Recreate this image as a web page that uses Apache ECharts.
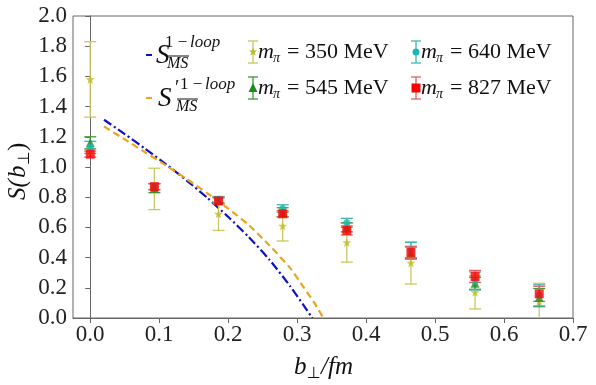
<!DOCTYPE html>
<html><head><meta charset="utf-8">
<script src="https://cdn.jsdelivr.net/npm/echarts@6/dist/echarts.min.js"></script>
<style>html,body{margin:0;padding:0;background:#fff}#c{width:596px;height:385px}</style>
</head><body><div id="c"></div>
<script>
// ---- data ----
const bPerp = [0, 0.093, 0.186, 0.279, 0.372, 0.465, 0.558, 0.651];
const s350 = [1.58, 0.855, 0.69, 0.61, 0.50, 0.365, 0.17, 0.11];
const e350 = [0.25, 0.137, 0.11, 0.10, 0.13, 0.14, 0.11, 0.12];
const s545 = [1.16, 0.86, 0.78, 0.70, 0.60, 0.43, 0.23, 0.135];
const e545 = [0.04, 0.03, 0.02, 0.03, 0.03, 0.04, 0.04, 0.06];
const s640 = [1.13, 0.87, 0.785, 0.725, 0.63, 0.45, 0.245, 0.15];
const e640 = [0.04, 0.02, 0.02, 0.025, 0.03, 0.05, 0.06, 0.07];
const s827 = [1.085, 0.87, 0.775, 0.69, 0.58, 0.435, 0.275, 0.16];
const e827 = [0.02, 0.02, 0.02, 0.02, 0.03, 0.04, 0.04, 0.05];
const msX  = [0.02, 0.05, 0.08, 0.11, 0.14, 0.17, 0.20, 0.23, 0.26, 0.29, 0.31, 0.322];
const msY  = [1.313, 1.218, 1.120, 1.018, 0.910, 0.795, 0.670, 0.535, 0.385, 0.21, 0.08, 0.0];
const msPX = [0.02, 0.05, 0.08, 0.11, 0.14, 0.17, 0.20, 0.23, 0.26, 0.29, 0.31, 0.325, 0.338];
const msPY = [1.268, 1.183, 1.096, 1.01, 0.92, 0.825, 0.725, 0.615, 0.48, 0.33, 0.20, 0.10, 0.0];
const xTicks = [0, 0.1, 0.2, 0.3, 0.4, 0.5, 0.6, 0.7];

const FONT = "Liberation Serif";
const STARPTS = [[0,-10],[2.35,-3.24],[9.51,-3.09],[3.8,1.24],[5.88,8.09],[0,4],[-5.88,8.09],[-3.8,1.24],[-9.51,-3.09],[-2.35,-3.24]];
const STAR = 'path://M' + STARPTS.map(p=>p.join(',')).join(' L') + ' Z';
const groups = [
  {name:'350', ys:s350, es:e350, color:'#bcbd22', ecolor:'#c8c860', symbol:STAR, size:9},
  {name:'545', ys:s545, es:e545, color:'#1f8c1f', ecolor:'#3a9a3a', symbol:'triangle', size:9},
  {name:'640', ys:s640, es:e640, color:'#1fb5b0', ecolor:'#40b8b0', symbol:'circle', size:7},
  {name:'827', ys:s827, es:e827, color:'#ff0000', ecolor:'#e06060', symbol:'rect', size:9}
];

const series = [];
series.push({type:'line', data: msX.map((x,i)=>[x, msY[i]]), showSymbol:false, smooth:0.2,
  lineStyle:{color:'#1010c8', width:2.2, type:[9,3,2,3]}, z:1, silent:true});
series.push({type:'line', data: msPX.map((x,i)=>[x, msPY[i]]), showSymbol:false, smooth:0.2,
  lineStyle:{color:'#eca41c', width:2.2, type:[7,4]}, z:1, silent:true});
groups.forEach(g=>{
  series.push({type:'custom', silent:true, clip:true, z:2,
    data: bPerp.map((x,i)=>[x, g.ys[i]-g.es[i], g.ys[i]+g.es[i]]),
    encode:{x:0, y:[1,2]},
    renderItem(params, api){
      const lo = api.coord([api.value(0), api.value(1)]);
      const hi = api.coord([api.value(0), api.value(2)]);
      const w = 6, st = {stroke:g.ecolor, lineWidth:1.3};
      return {type:'group', children:[
        {type:'line', shape:{x1:lo[0],y1:lo[1],x2:hi[0],y2:hi[1]}, style:st},
        {type:'line', shape:{x1:lo[0]-w,y1:lo[1],x2:lo[0]+w,y2:lo[1]}, style:st},
        {type:'line', shape:{x1:hi[0]-w,y1:hi[1],x2:hi[0]+w,y2:hi[1]}, style:st}
      ]};
    }});
  series.push({type:'scatter', data: bPerp.map((x,i)=>[x, g.ys[i]]), symbol:g.symbol, symbolSize:g.size,
    itemStyle:{color:g.color}, z:2, silent:true});
});

// legend graphics
const graphic = [];
function legLine(y, color){
  graphic.push({type:'line', shape:{x1:146,y1:y,x2:152,y2:y}, style:{stroke:color, lineWidth:2}});
}
legLine(55, '#1010c8'); legLine(98, '#eca41c');
function txt(x, y, text, size, italic){
  graphic.push({type:'text', x:x, y:y, style:{text:text, fill:'#111', textVerticalAlign:'middle',
    font:(italic?'italic ':'')+size+'px '+FONT}});
}
function sLabel(sx, sy, prime, supX, supY, subX, subY, olY){
  txt(sx, sy, 'S', 27, true);
  if (prime) txt(sx+17, sy-10, '\u2032', 20, false);
  txt(supX, supY, '1 \u2212', 17, false);
  txt(supX+25, supY, 'loop', 17, true);
  txt(subX, subY, 'MS', 16, true);
  graphic.push({type:'line', shape:{x1:subX+1,y1:olY,x2:subX+22,y2:olY}, style:{stroke:'#111', lineWidth:1}});
}
sLabel(156, 56, false, 165, 43, 167, 64, 56);
sLabel(158, 99, true, 180, 85, 176, 107, 99);
function errIcon(x, y, g){
  const st = {stroke:g.ecolor, lineWidth:1.3};
  graphic.push({type:'line', shape:{x1:x,y1:y-11,x2:x,y2:y+11}, style:st});
  graphic.push({type:'line', shape:{x1:x-5,y1:y-11,x2:x+5,y2:y-11}, style:st});
  graphic.push({type:'line', shape:{x1:x-5,y1:y+11,x2:x+5,y2:y+11}, style:st});
  const f = {fill:g.color};
  if (g.name === '350') graphic.push({type:'polygon', x:x, y:y, scaleX:0.45, scaleY:0.45, shape:{points:STARPTS}, style:f});
  if (g.name === '545') graphic.push({type:'polygon', x:x, y:y, shape:{points:[[0,-5],[4.5,4],[-4.5,4]]}, style:f});
  if (g.name === '640') graphic.push({type:'circle', x:x, y:y, shape:{cx:0, cy:0, r:3.5}, style:f});
  if (g.name === '827') graphic.push({type:'rect', x:x, y:y, shape:{x:-4.5, y:-4.5, width:9, height:9}, style:f});
}
function mLabel(x, y, val){
  txt(x, y, 'm', 22, true);
  txt(x+15, y+6, '\u03c0', 14, true);
  txt(x+29, y, '= ' + val + ' MeV', 22, false);
}
const legPos = [[253,52,'350',0],[253,88,'545',1],[416,52,'640',2],[416,88,'827',3]];
legPos.forEach(p=>{ errIcon(p[0], p[1], groups[p[3]]); mLabel(p[0]+5, p[1], p[2]); });

// axis titles
graphic.push({type:'group', x:325, y:367, children:[
  {type:'text', x:-31, y:0, style:{text:'b', font:'italic 25px '+FONT, fill:'#111', textVerticalAlign:'middle'}},
  {type:'text', x:-18, y:7, style:{text:'\u22a5', font:'16px DejaVu Sans', fill:'#111', textVerticalAlign:'middle'}},
  {type:'text', x:-4, y:0, style:{text:'/fm', font:'italic 25px '+FONT, fill:'#111', textVerticalAlign:'middle'}}
]});
graphic.push({type:'group', x:18, y:169, rotation:Math.PI/2, children:[
  {type:'text', x:-31, y:0, style:{text:'S(', font:'italic 25px '+FONT, fill:'#111', textVerticalAlign:'middle'}},
  {type:'text', x:-9, y:0, style:{text:'b', font:'italic 25px '+FONT, fill:'#111', textVerticalAlign:'middle'}},
  {type:'text', x:4, y:7, style:{text:'\u22a5', font:'16px DejaVu Sans', fill:'#111', textVerticalAlign:'middle'}},
  {type:'text', x:18, y:0, style:{text:')', font:'25px '+FONT, fill:'#111', textVerticalAlign:'middle'}}
]});

const chart = echarts.init(document.getElementById('c'), null, {renderer:'canvas'});
const labelRich = {a:{fontFamily:FONT, fontSize:23, color:'#222', lineHeight:24}};
chart.setOption({
  animation:false,
  backgroundColor:'#fff',
  textStyle:{fontFamily:FONT},
  grid:{left:73, right:23, top:16, bottom:67, show:true, borderColor:'#666', borderWidth:1},
  xAxis:{type:'value', min:-0.025, max:0.7,
    axisLine:{show:true, lineStyle:{color:'#666'}},
    axisTick:{show:true, length:5, customValues:xTicks, lineStyle:{color:'#666'}},
    axisLabel:{customValues:xTicks, formatter:v=>'{a|'+v.toFixed(1)+'}', rich:labelRich, margin:5},
    splitLine:{show:false}},
  yAxis:{type:'value', min:0, max:2.0, interval:0.2,
    axisLine:{show:true, lineStyle:{color:'#666'}},
    axisTick:{show:true, length:5, lineStyle:{color:'#666'}},
    axisLabel:{formatter:v=>'{a|'+v.toFixed(1)+'}', rich:labelRich, margin:6},
    splitLine:{show:false}},
  series: series,
  graphic: graphic
});
</script></body></html>
